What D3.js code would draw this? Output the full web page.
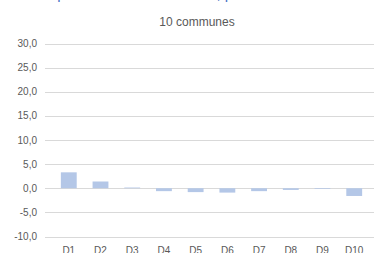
<!DOCTYPE html>
<html>
<head>
<meta charset="utf-8">
<script src="https://cdn.jsdelivr.net/npm/d3@7"></script>
<style>
  body { margin: 0; background: #fff; overflow: hidden; }
  svg { display: block; }
  text { font-family: "Liberation Sans", Arial, sans-serif; }
</style>
</head>
<body>
<svg id="chart" width="374" height="253"></svg>
<script>
// deciles and values
const deciles = ["D1", "D2", "D3", "D4", "D5", "D6", "D7", "D8", "D9", "D10"];
const values = [3.3, 1.4, 0.15, -0.6, -0.8, -0.9, -0.6, -0.35, -0.15, -1.6];
const yTicks = [30, 25, 20, 15, 10, 5, 0, -5, -10];

const svg = d3.select("#chart");

// plot runs a little past the right edge, like the original
const xScale = d3.scaleBand().domain(deciles).range([45, 378]).padding(0.5);
const yScale = d3.scaleLinear().domain([-10, 30]).range([236.5, 43.5]);

const fmt = d => d3.format(".1f")(d).replace(".", ",").replace("−", "-");

// title (mostly cut off at the top, only descenders show)
svg.append("text")
  .attr("x", 38).attr("y", -1)
  .attr("font-size", 15)
  .attr("fill", "#4472c4")
  .text("Répartition des communes, par décile");

svg.append("text")
  .attr("x", 197).attr("y", 26)
  .attr("text-anchor", "middle")
  .attr("font-size", 12)
  .attr("fill", "#595959")
  .text("10 communes");

// gridlines
svg.append("g")
  .selectAll("line")
  .data(yTicks)
  .join("line")
  .attr("x1", 45).attr("x2", 378)
  .attr("y1", d => Math.round(yScale(d)) + 0.5)
  .attr("y2", d => Math.round(yScale(d)) + 0.5)
  .attr("stroke", "#d9d9d9")
  .attr("stroke-width", 1);

// y labels
svg.append("g")
  .selectAll("text")
  .data(yTicks)
  .join("text")
  .attr("x", 37)
  .attr("y", d => yScale(d) + 3.5)
  .attr("text-anchor", "end")
  .attr("font-size", 10)
  .attr("fill", "#595959")
  .text(fmt);

// bars
svg.append("g")
  .selectAll("rect")
  .data(deciles)
  .join("rect")
  .attr("x", d => xScale(d))
  .attr("width", xScale.bandwidth())
  .attr("y", (d, i) => yScale(Math.max(0, values[i])))
  .attr("height", (d, i) => Math.abs(yScale(values[i]) - yScale(0)))
  .attr("fill", "#b4c7e7");

// x labels (cut off at the bottom)
svg.append("g")
  .selectAll("text")
  .data(deciles)
  .join("text")
  .attr("x", d => xScale(d) + xScale.bandwidth() / 2)
  .attr("y", 254)
  .attr("text-anchor", "middle")
  .attr("font-size", 10)
  .attr("fill", "#595959")
  .text(d => d);
</script>
</body>
</html>
